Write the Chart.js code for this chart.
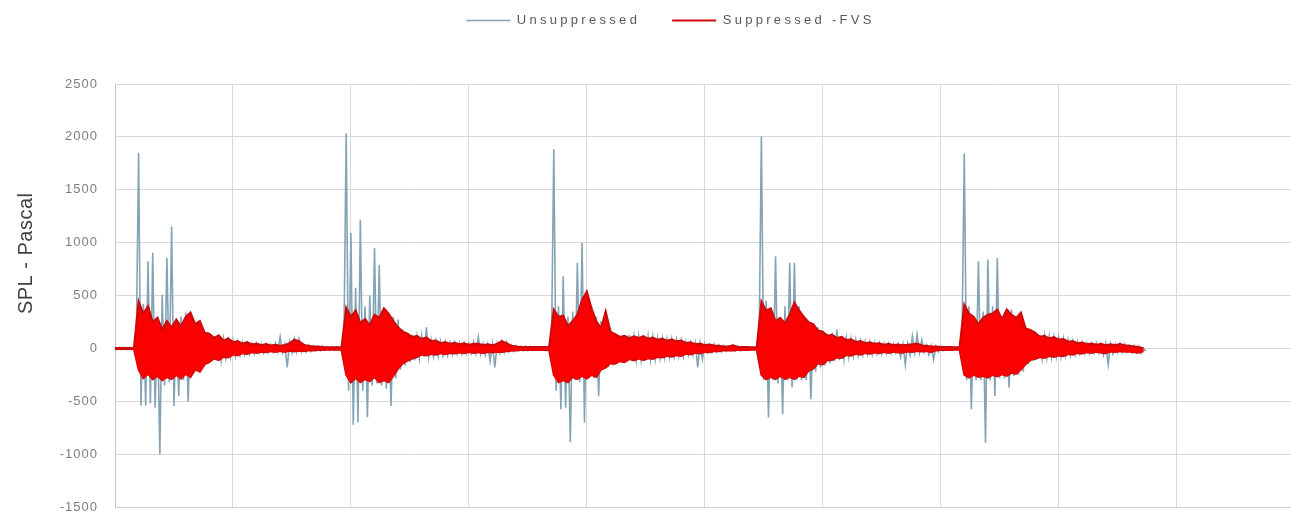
<!DOCTYPE html>
<html>
<head>
<meta charset="utf-8">
<script src="https://cdn.jsdelivr.net/npm/chart.js@4.4.0/dist/chart.umd.min.js"></script>
<style>
  html, body { margin: 0; padding: 0; background: #fff; }
  #wrap { width: 1291px; height: 515px; position: relative; }
</style>
</head>
<body>
<div id="wrap"><canvas id="splChart"></canvas></div>
<script>
// one sample every 0.04 units along x (one vertical grid step = 1 unit)
var STEP = 0.04;

// sample-by-sample peak (hi) and trough (lo) of each trace
var supHi = [
  4, 4, 4, 4, 4,
  446, 330, 400, 250, 290, 180, 260, 200, 273, 210, 300, 340, 230, 260, 150,
  140, 100, 125, 75, 95, 60, 70, 45, 60, 38, 48, 32, 42, 28, 35, 26, 34, 50, 85, 70,
  35, 25, 20, 18, 15, 12, 12, 12, 12,
  386, 300, 360, 240, 280, 220, 320, 290, 380, 330, 260, 200, 160, 140, 110,
  120, 90, 105, 70, 75, 50, 60, 45, 55, 40, 50, 36, 44, 46, 34, 40, 30, 45, 70, 50,
  25, 20, 15, 15, 15, 15, 15, 15, 15,
  368, 300, 310, 210, 260, 320, 460, 541, 380, 260, 190, 352, 160, 135, 110,
  120, 98, 115, 100, 118, 92, 104, 82, 95, 74, 86, 68, 76, 52, 58, 40, 46, 32, 38, 28,
  25, 20, 20, 30, 15, 15, 15, 12, 12,
  446, 360, 380, 260, 290, 240, 320, 434, 360, 300, 250, 230, 170, 160, 120,
  130, 100, 110, 80, 88, 62, 70, 50, 58, 44, 50, 36, 44, 32, 38, 30, 36, 40, 46, 28,
  25, 20, 18, 15, 15, 15, 12, 12,
  415, 330, 300, 230, 290, 320, 330, 368, 280, 368, 320, 290, 340, 190, 175,
  150, 112, 120, 96, 108, 84, 90, 64, 70, 50, 56, 40, 46, 36, 44, 32, 40, 30, 42, 32,
  25, 20, 15, 0
];
var supLo = [
  -4, -4, -4, -4, -4,
  -200, -280, -240, -292, -260, -300, -270, -290, -250, -285, -240, -270, -200, -220, -150,
  -130, -95, -110, -80, -85, -58, -65, -45, -52, -36, -42, -30, -36, -26, -32, -24, -32, -22, -28, -22,
  -25, -20, -18, -15, -15, -12, -12, -12, -12,
  -250, -320, -280, -320, -290, -310, -270, -320, -300, -320, -260, -190, -140, -115, -95,
  -80, -58, -66, -52, -58, -46, -54, -42, -48, -38, -44, -34, -42, -36, -44, -34, -38, -30, -34, -26,
  -22, -18, -15, -15, -15, -15, -15, -15, -15,
  -250, -320, -300, -320, -270, -290, -260, -285, -250, -270, -200, -180, -140, -145, -120,
  -130, -100, -112, -96, -110, -92, -100, -80, -86, -70, -78, -64, -70, -50, -56, -40, -46, -32, -36, -26,
  -25, -20, -18, -18, -15, -15, -15, -12, -12,
  -250, -292, -270, -290, -260, -290, -270, -290, -260, -270, -210, -190, -140, -150, -110,
  -108, -84, -90, -62, -68, -50, -58, -44, -50, -38, -44, -34, -42, -30, -38, -40, -28, -34, -24, -28,
  -25, -35, -18, -15, -15, -15, -12, -12,
  -250, -275, -250, -270, -260, -275, -250, -265, -245, -260, -230, -240, -200, -150, -110,
  -100, -82, -90, -72, -80, -66, -72, -52, -58, -44, -48, -36, -42, -32, -40, -45, -30, -34, -26, -30,
  -30, -35, -40, -25
];
var unsupHi = [
  10, 10, 10, 10, 10,
  1850, 420, 824, 905, 300, 509, 858, 1154, 280, 300, 340, 260, 220, 180, 150,
  120, 120, 125, 90, 75, 70, 60, 55, 50, 45, 45, 40, 40, 35, 50, 110, 40, 60, 90, 90,
  40, 30, 25, 20, 20, 15, 15, 15, 15,
  2035, 1092, 575, 1217, 400, 500, 950, 792, 380, 330, 300, 273, 180, 140, 130,
  110, 120, 200, 80, 70, 65, 60, 55, 55, 50, 50, 45, 60, 110, 45, 40, 40, 45, 70, 60,
  30, 25, 20, 20, 18, 15, 15, 15, 15,
  1884, 400, 682, 300, 350, 810, 1000, 540, 400, 300, 260, 352, 200, 140, 120,
  110, 130, 110, 110, 115, 110, 105, 95, 90, 85, 85, 80, 75, 60, 55, 50, 45, 40, 35, 40,
  30, 25, 20, 30, 20, 15, 15, 12, 12,
  2003, 450, 350, 871, 300, 400, 811, 811, 400, 300, 250, 220, 200, 160, 140,
  150, 180, 120, 100, 90, 80, 70, 65, 60, 55, 50, 45, 45, 40, 40, 40, 45, 116, 132, 80,
  30, 25, 20, 20, 15, 15, 12, 12,
  1846, 400, 300, 824, 350, 840, 400, 855, 300, 368, 370, 300, 340, 200, 180,
  150, 130, 120, 110, 105, 100, 90, 80, 70, 60, 55, 50, 45, 50, 40, 45, 40, 40, 45, 40,
  30, 25, 20, 0
];
var unsupLo = [
  -10, -10, -10, -10, -10,
  -540, -540, -520, -560, -1000, -350, -320, -544, -450, -300, -500, -220, -200, -180, -140,
  -120, -110, -110, -90, -80, -70, -60, -55, -50, -45, -40, -40, -35, -35, -30, -40, -180, -40, -30, -30,
  -30, -25, -20, -20, -15, -15, -15, -15, -15,
  -400, -720, -700, -400, -650, -350, -330, -350, -380, -544, -280, -200, -160, -130, -110,
  -90, -80, -80, -75, -70, -65, -60, -55, -50, -50, -45, -45, -45, -50, -60, -120, -180, -40, -35, -30,
  -25, -20, -20, -18, -15, -15, -15, -15, -15,
  -400, -575, -560, -887, -300, -320, -700, -280, -280, -450, -200, -180, -160, -140, -135,
  -120, -110, -110, -105, -110, -105, -100, -90, -85, -80, -75, -70, -70, -60, -60, -180, -100, -40, -35, -30,
  -30, -25, -20, -20, -20, -15, -15, -12, -12,
  -300, -651, -300, -330, -622, -300, -368, -300, -300, -300, -480, -220, -180, -160, -140,
  -120, -110, -100, -80, -70, -65, -60, -55, -55, -50, -50, -45, -45, -40, -80, -151, -60, -40, -40, -35,
  -60, -104, -30, -20, -15, -15, -12, -12,
  -300, -575, -300, -300, -890, -300, -450, -280, -280, -370, -260, -250, -220, -150, -110,
  -100, -90, -85, -80, -75, -75, -70, -60, -55, -50, -45, -45, -40, -40, -60, -150, -50, -35, -35, -30,
  -35, -40, -45, -25
];

var yTicks = [-1500, -1000, -500, 0, 500, 1000, 1500, 2000, 2500];
var seriesNames = ['Suppressed -FVS', 'Unsuppressed'];
var yTitle = 'SPL - Pascal';

var FONT = "'Liberation Sans', Arial, sans-serif";

// one point per sample
function envelope(vals) {
  return vals.map(function (v, i) { return { x: i * STEP, y: v }; });
}

// hi then lo for every sample -> the oscillating trace
function trace(hi, lo) {
  var pts = [];
  for (var i = 0; i < hi.length; i++) {
    pts.push({ x: i * STEP, y: hi[i] });
    pts.push({ x: i * STEP + STEP / 2, y: lo[i] });
  }
  return pts;
}

// wider letter spacing as in the picture, and room under the legend
var legendTweak = {
  id: 'legendTweak',
  beforeInit: function (chart) {
    var lg = chart.legend;
    var fit = lg.fit, draw = lg.draw;
    lg.fit = function () {
      chart.ctx.letterSpacing = '3.3px';
      fit.call(this);
      chart.ctx.letterSpacing = '1px';
      this.height += 47;
    };
    lg.draw = function () {
      chart.ctx.letterSpacing = '3.3px';
      draw.call(this);
      chart.ctx.letterSpacing = '1px';
    };
  },
  beforeUpdate: function (chart) { chart.ctx.letterSpacing = '1px'; },
  beforeDraw: function (chart) { chart.ctx.letterSpacing = '1px'; }
};

// axis title sits a bit above the middle of the plot
var sideTitle = {
  id: 'sideTitle',
  afterDraw: function (chart) {
    var ctx = chart.ctx, a = chart.chartArea;
    ctx.save();
    ctx.letterSpacing = '0.5px';
    ctx.translate(26, a.top + (a.bottom - a.top) * 0.4);
    ctx.rotate(-Math.PI / 2);
    ctx.font = '20px ' + FONT;
    ctx.fillStyle = '#404040';
    ctx.textAlign = 'center';
    ctx.textBaseline = 'middle';
    ctx.fillText(yTitle, 0, 0);
    ctx.restore();
  }
};

var ctx = document.getElementById('splChart').getContext('2d');
var splChart = new Chart(ctx, {
  type: 'line',
  data: {
    datasets: [{
      label: seriesNames[0],
      data: envelope(supHi),
      borderColor: 'rgb(205, 10, 10)',
      backgroundColor: 'rgb(250, 0, 0)',
      borderWidth: 2,
      pointRadius: 0,
      tension: 0,
      fill: '+1'
    }, {
      label: 'lower',
      data: envelope(supLo),
      borderColor: 'rgb(205, 10, 10)',
      borderWidth: 2,
      pointRadius: 0,
      tension: 0,
      fill: false
    }, {
      label: seriesNames[1],
      data: trace(unsupHi, unsupLo),
      borderColor: 'rgb(132, 163, 180)',
      borderWidth: 1.6,
      pointRadius: 0,
      tension: 0
    }]
  },
  options: {
    responsive: true,
    maintainAspectRatio: false,
    animation: false,
    events: [],
    parsing: false,
    normalized: true,
    layout: { padding: { left: 50, top: -18, right: 0, bottom: 0 } },
    plugins: {
      tooltip: { enabled: false },
      legend: {
        position: 'top',
        reverse: true,
        labels: {
          usePointStyle: true,
          pointStyle: 'line',
          pointStyleWidth: 44,
          padding: 32,
          color: '#595959',
          font: { family: FONT, size: 13 },
          filter: function (item) { return item.text !== 'lower'; }
        }
      }
    },
    scales: {
      x: {
        type: 'linear',
        min: 0,
        max: 9.97,
        ticks: { display: false, stepSize: 1, includeBounds: false },
        grid: { color: '#d9d9d9', drawTicks: false },
        border: { color: '#d0d0d0' }
      },
      y: {
        min: yTicks[0],
        max: yTicks[yTicks.length - 1],
        afterFit: function (scale) { scale.width = 65; },
        ticks: {
          stepSize: 500,
          padding: 0,
          color: '#7f7f7f',
          font: { family: FONT, size: 13 },
          callback: function (v) { return String(v); }
        },
        grid: { color: '#d9d9d9', drawTicks: true, tickLength: 17, tickColor: 'rgba(0,0,0,0)' },
        border: { color: '#c4c4c4' }
      }
    }
  },
  plugins: [legendTweak, sideTitle]
});
</script>
</body>
</html>
